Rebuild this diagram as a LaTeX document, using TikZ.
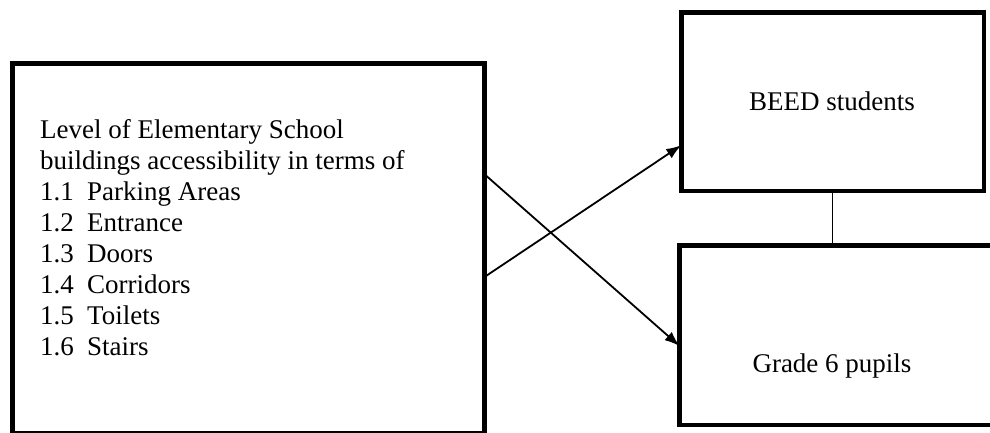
\documentclass[tikz,border=0pt]{standalone}
\usepackage{fontspec}
\setmainfont{Liberation Serif}
\usetikzlibrary{arrows.meta}
\begin{document}
\begin{tikzpicture}[x=1pt,y=-1pt,
  box/.style={draw, line width=4.5pt, outer sep=0pt, inner sep=0pt, anchor=north west, line join=miter},
  txt/.style={font=\fontsize{27}{31}\selectfont, inner sep=0pt},
  arr/.style={line width=1.8pt, -{Latex[length=15pt,width=11pt]}},
  link/.style={line width=1.5pt}]
\useasboundingbox (0,0) rectangle (990,432);
\begin{scope}
\clip (0,0) rectangle (990,432);
\node[box, minimum width=472.25pt, minimum height=370.25pt] (left) at (12.25,63.25) {};
\node[box, minimum width=302.5pt, minimum height=178.5pt] (top) at (681.25,12.25) {};
\node[box, minimum width=320pt, minimum height=179.5pt] (bot) at (679.5,245.25) {};
\node[txt, align=left, anchor=north west] (list) at (40,119.5) {Level of Elementary School\\
buildings accessibility in terms of\\
\makebox[47pt][l]{1.1}Parking Areas\\
\makebox[47pt][l]{1.2}Entrance\\
\makebox[47pt][l]{1.3}Doors\\
\makebox[47pt][l]{1.4}Corridors\\
\makebox[47pt][l]{1.5}Toilets\\
\makebox[47pt][l]{1.6}Stairs};
\node[txt, anchor=base] (beed) at (832,110) {BEED students};
\node[txt, anchor=base] (grade) at (832,372) {Grade 6 pupils};
\draw[arr] ([yshift=-111pt]left.north east) -- ([yshift=-100.75pt]bot.north west);
\draw[arr] ([yshift=-213.75pt]left.north east) -- ([yshift=-133pt]top.north west);
\draw[link] (top.south) -- (top.south |- bot.north);
\end{scope}
\end{tikzpicture}
\end{document}
